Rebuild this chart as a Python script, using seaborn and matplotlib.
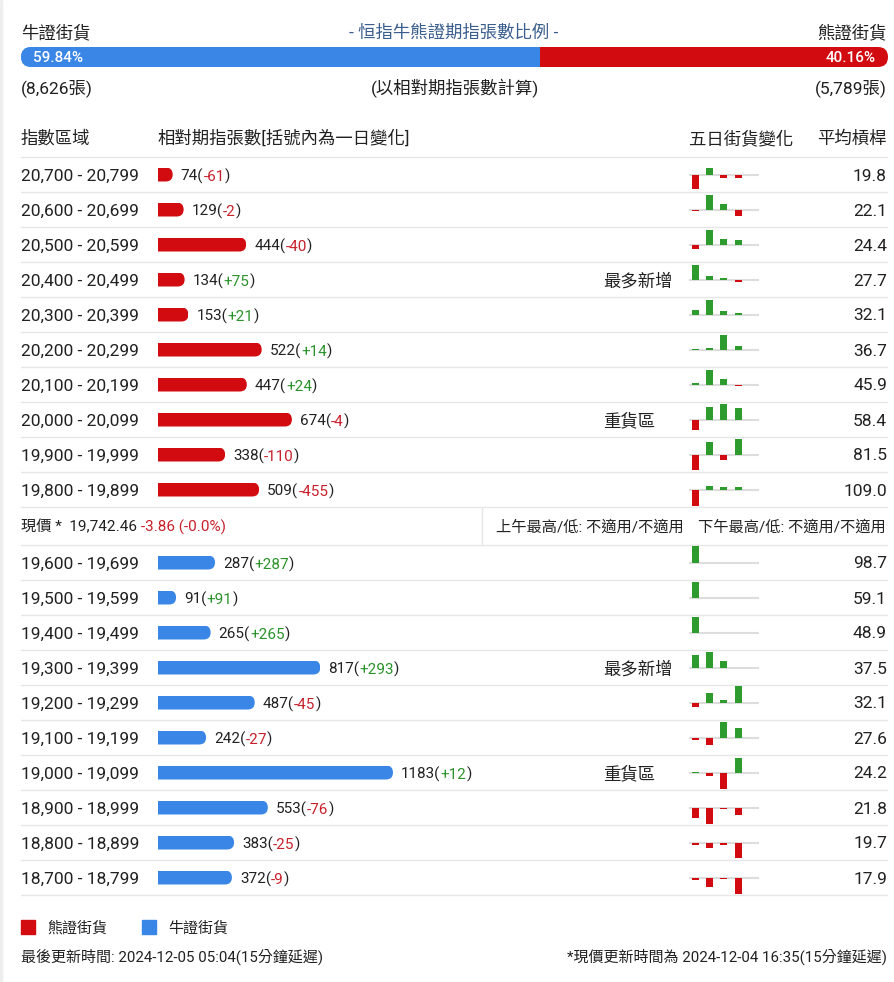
import pandas as pd
import matplotlib
matplotlib.use('Agg')
import matplotlib.pyplot as plt
import seaborn as sns
from matplotlib.patches import FancyBboxPatch, Rectangle
from matplotlib.transforms import IdentityTransform

# ---- data ----
bull_total = '8,626'
bear_total = '5,789'
bull_pct = 59.84
bear_pct = 40.16

bear_ranges = ['20,700 - 20,799', '20,600 - 20,699', '20,500 - 20,599', '20,400 - 20,499',
               '20,300 - 20,399', '20,200 - 20,299', '20,100 - 20,199', '20,000 - 20,099',
               '19,900 - 19,999', '19,800 - 19,899']
bear_qty = [74, 129, 444, 134, 153, 522, 447, 674, 338, 509]
bear_chg = [-61, -2, -40, 75, 21, 14, 24, -4, -110, -455]
bear_lev = ['19.8', '22.1', '24.4', '27.7', '32.1', '36.7', '45.9', '58.4', '81.5', '109.0']
bear_5d = [[-14, 7, -3, -3], [-1, 15, 6, -6], [-5, 15, 6, 5], [15, 4, 2, -2], [5, 15, 4, 2],
           [1, 1.5, 15, 4], [2, 15, 6, -1], [-11, 13, 16, 12], [-15, 13, -5, 16], [-16, 4, 3, 3]]
bear_tags = {3: '最多新增', 7: '重貨區'}

bull_ranges = ['19,600 - 19,699', '19,500 - 19,599', '19,400 - 19,499', '19,300 - 19,399',
               '19,200 - 19,299', '19,100 - 19,199', '19,000 - 19,099', '18,900 - 18,999',
               '18,800 - 18,899', '18,700 - 18,799']
bull_qty = [287, 91, 265, 817, 487, 242, 1183, 553, 383, 372]
bull_chg = [287, 91, 265, 293, -45, -27, 12, -76, -25, -9]
bull_lev = ['98.7', '59.1', '48.9', '37.5', '32.1', '27.6', '24.2', '21.8', '19.7', '17.9']
bull_5d = [[17, 0, 0, 0], [16, 0, 0, 0], [16, 0, 0, 0], [13, 16, 7, 0], [-4, 10, 3, 17],
           [-2, -7, 16, 10], [1, -3, -16, 15], [-10, -16, -1, -7], [-2, -5, -2, -15], [-2, -9, -1, -16]]
bull_tags = {3: '最多新增', 6: '重貨區'}

days = ['D1', 'D2', 'D3', 'D4']

RED = '#D20B10'
BLUE = '#3A86E6'
GREEN = '#2E9B2E'
TXT_RED = '#C8202B'
TXT_GREEN = '#2A922A'
DARK = '#212121'
LINE = '#E6E6E6'
DY = 1.5  # small nudge so text sits on the row centre

W, H = 895, 982
sns.set_theme(style='white')
plt.rcParams['font.family'] = ['Roboto', 'Noto Sans CJK TC', 'DejaVu Sans']

fig = plt.figure(figsize=(W / 100, H / 100), dpi=100)
bg = fig.add_axes([0, 0, 1, 1])
bg.set_xlim(0, W)
bg.set_ylim(H, 0)
bg.axis('off')


def px_axes(x0, y0, x1, y1):
    a = fig.add_axes([x0 / W, 1 - y1 / H, (x1 - x0) / W, (y1 - y0) / H])
    a.set_facecolor('none')
    return a


def txt(x, y, s, size=12.5, color=DARK, ha='left'):
    return bg.text(x, y + DY, s, fontsize=size, color=color, va='center', ha=ha)


def round_clip(p, trans):
    # clip a bar patch so its right end is rounded (display coords)
    (xa, ya) = trans.transform((p.get_x(), p.get_y()))
    (xb, yb) = trans.transform((p.get_x() + p.get_width(), p.get_y() + p.get_height()))
    xl, xr = min(xa, xb), max(xa, xb)
    yl, yh = min(ya, yb), max(ya, yb)
    h = yh - yl
    clip = FancyBboxPatch((xl - h, yl), xr - xl + h, h,
                          boxstyle=f'round,pad=0,rounding_size={h / 2}',
                          transform=IdentityTransform())
    p.set_clip_path(clip)


# ---- header ----
txt(21, 31, '牛證街貨')
txt(454, 31, '- 恒指牛熊證期指張數比例 -', color='#3A5E8E', ha='center')
txt(887, 31, '熊證街貨', ha='right')

pax = px_axes(21, 47, 888, 67)
pax.barh([0], [bull_pct], height=1, color=BLUE, edgecolor=BLUE, linewidth=1)
pax.barh([0], [bear_pct], left=[bull_pct], height=1, color=RED, linewidth=0)
pax.set_xlim(0, 100)
pax.set_ylim(-0.5, 0.5)
pax.axis('off')
x0d, y0d = pax.transAxes.transform((0, 0))
x1d, y1d = pax.transAxes.transform((1, 1))
ratio_clip = FancyBboxPatch((x0d, y0d), x1d - x0d, y1d - y0d,
                            boxstyle=f'round,pad=0,rounding_size={(y1d - y0d) / 2}',
                            transform=IdentityTransform())
for p in pax.patches:
    p.set_clip_path(ratio_clip)
pax.annotate(f'{bull_pct:.2f}%', xy=(0, 0.5), xycoords='axes fraction', xytext=(8.6, -0.8),
             textcoords='offset points', fontsize=11, fontweight='medium', color='white',
             va='center', ha='left')
pax.annotate(f'{bear_pct:.2f}%', xy=(1, 0.5), xycoords='axes fraction', xytext=(-8.6, -0.8),
             textcoords='offset points', fontsize=11, fontweight='medium', color='white',
             va='center', ha='right')

txt(21, 87, f'({bull_total}張)')
txt(455, 87, '(以相對期指張數計算)', ha='center')
txt(887, 87, f'({bear_total}張)', ha='right')

txt(21, 137, '指數區域')
txt(158, 137, '相對期指張數[括號內為一日變化]')
txt(689, 137, '五日街貨變化')
txt(887, 137, '平均槓桿', ha='right')

ROW_H = 35
PX_PER = 235 / 1183  # pixels per contract


def draw_block(top, ranges, qty, chg, lev, five, tags, color):
    n = len(ranges)
    for k in range(n + 1):
        bg.plot([21, 887], [top + k * ROW_H] * 2, color=LINE, lw=1, zorder=0)
    for i in range(n):
        yc = top + (i + 0.5) * ROW_H
        txt(21, yc, ranges[i])
        txt(887, yc, lev[i], ha='right')
        if i in tags:
            txt(603, yc, tags[i])

    ax = px_axes(158, top, 680, top + n * ROW_H)
    df = pd.DataFrame({'range': ranges, 'qty': qty})
    sns.barplot(data=df, x='qty', y='range', orient='h', color=color, saturation=1,
                width=0.4, errorbar=None, linewidth=0, ax=ax)
    ax.set_xlim(0, 522 / PX_PER)
    ax.set_ylim(n - 0.5, -0.5)
    ax.axis('off')
    for p in ax.patches:
        round_clip(p, ax.transData)
    for i in range(n):
        t = ax.annotate(f'{qty[i]}(', xy=(qty[i], i), xytext=(5.8, -DY * 0.72),
                        textcoords='offset points', fontsize=11, color=DARK, va='center', ha='left')
        c = TXT_GREEN if chg[i] > 0 else TXT_RED
        t2 = ax.annotate(f'{chg[i]:+d}', xy=(1, 0), xycoords=t, fontsize=11, color=c,
                         va='bottom', ha='left')
        ax.annotate(')', xy=(1, 0), xycoords=t2, fontsize=11, color=DARK, va='bottom', ha='left')

    for i in range(n):
        m = px_axes(689, top + i * ROW_H, 759, top + (i + 1) * ROW_H)
        d5 = pd.DataFrame({'day': days, 'chg': five[i]})
        pal = {d: (GREEN if v > 0 else RED) for d, v in zip(days, five[i])}
        m.axhline(0, color='#DDDDDD', lw=1.5, zorder=0.5)
        sns.barplot(data=d5, x='day', y='chg', hue='day', palette=pal, saturation=1,
                    width=0.5, errorbar=None, legend=False, linewidth=0, ax=m)
        m.set_xlim(-0.5, 4.5)
        m.set_ylim(-17.5, 17.5)
        m.axis('off')


draw_block(157, bear_ranges, bear_qty, bear_chg, bear_lev, bear_5d, bear_tags, RED)
draw_block(545, bull_ranges, bull_qty, bull_chg, bull_lev, bull_5d, bull_tags, BLUE)

# ---- spot price row ----
t = bg.annotate('現價 *  19,742.46 ', xy=(21, 526 + DY), fontsize=11, color=DARK, va='center', ha='left')
bg.annotate('-3.86 (-0.0%)', xy=(1, 0), xycoords=t, fontsize=11, color=TXT_RED, va='bottom', ha='left')
bg.plot([482, 482], [507, 545], color=LINE, lw=1)
txt(684, 526, '上午最高/低: 不適用/不適用', size=11, ha='right')
txt(886, 526, '下午最高/低: 不適用/不適用', size=11, ha='right')

# ---- legend / footer ----
bg.add_patch(Rectangle((21, 920), 14, 14, color=RED))
txt(47, 927, '熊證街貨', size=10.8)
bg.add_patch(Rectangle((142, 920), 14, 14, color=BLUE))
txt(168, 927, '牛證街貨', size=10.8)

txt(21, 955, '最後更新時間: 2024-12-05 05:04(15分鐘延遲)', size=10.8)
txt(887, 955, '*現價更新時間為 2024-12-04 16:35(15分鐘延遲)', size=10.8, ha='right')
bg.add_patch(Rectangle((0, 0), 2.5, H, color='#EEEEEE'))

fig.savefig('out.png', dpi=100)
